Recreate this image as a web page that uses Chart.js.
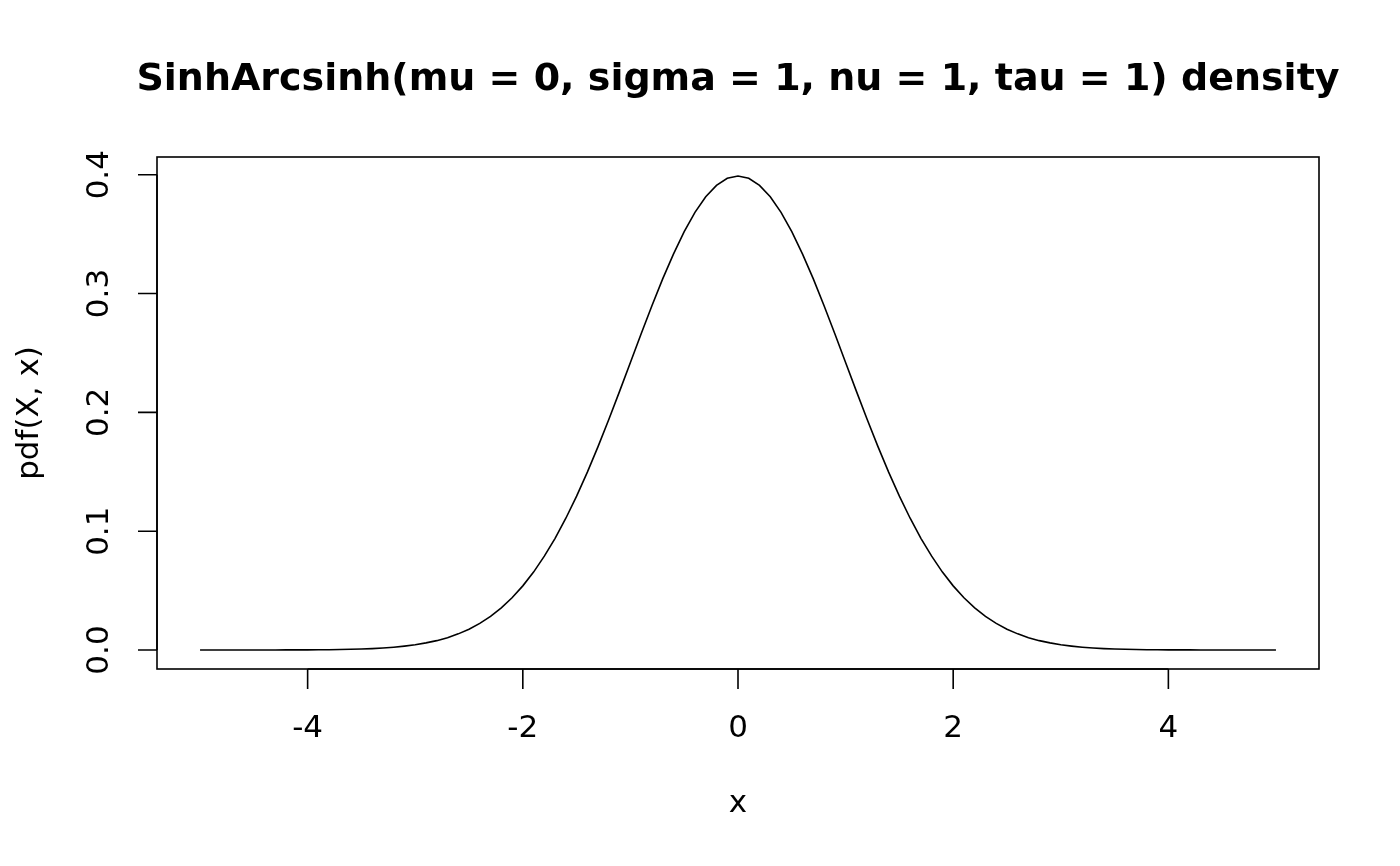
<!DOCTYPE html>
<html>
<head>
<meta charset="utf-8">
<script src="https://cdn.jsdelivr.net/npm/chart.js@4/dist/chart.umd.min.js"></script>
<style>
  html, body { margin: 0; padding: 0; background: #fff; }
  #wrap { width: 1400px; height: 866px; }
</style>
</head>
<body>
<div id="wrap"><canvas id="densityChart" width="1400" height="866"></canvas></div>
<script>
// x grid, -5 to 5 in steps of 0.1
const xValues = [
  -5.0, -4.9, -4.8, -4.7, -4.6, -4.5, -4.4, -4.3, -4.2, -4.1,
  -4.0, -3.9, -3.8, -3.7, -3.6, -3.5, -3.4, -3.3, -3.2, -3.1,
  -3.0, -2.9, -2.8, -2.7, -2.6, -2.5, -2.4, -2.3, -2.2, -2.1,
  -2.0, -1.9, -1.8, -1.7, -1.6, -1.5, -1.4, -1.3, -1.2, -1.1,
  -1.0, -0.9, -0.8, -0.7, -0.6, -0.5, -0.4, -0.3, -0.2, -0.1,
  0.0,
  0.1, 0.2, 0.3, 0.4, 0.5, 0.6, 0.7, 0.8, 0.9, 1.0,
  1.1, 1.2, 1.3, 1.4, 1.5, 1.6, 1.7, 1.8, 1.9, 2.0,
  2.1, 2.2, 2.3, 2.4, 2.5, 2.6, 2.7, 2.8, 2.9, 3.0,
  3.1, 3.2, 3.3, 3.4, 3.5, 3.6, 3.7, 3.8, 3.9, 4.0,
  4.1, 4.2, 4.3, 4.4, 4.5, 4.6, 4.7, 4.8, 4.9, 5.0
];

// density
const densityValues = [
  0.0000, 0.0000, 0.0000, 0.0000, 0.0000, 0.0000, 0.0000, 0.0000, 0.0001, 0.0001,
  0.0001, 0.0002, 0.0003, 0.0004, 0.0006, 0.0009, 0.0012, 0.0017, 0.0024, 0.0033,
  0.0044, 0.0060, 0.0079, 0.0104, 0.0136, 0.0175, 0.0224, 0.0283, 0.0355, 0.0440,
  0.0540, 0.0656, 0.0790, 0.0940, 0.1109, 0.1295, 0.1497, 0.1714, 0.1942, 0.2179,
  0.2420, 0.2661, 0.2897, 0.3123, 0.3332, 0.3521, 0.3683, 0.3814, 0.3910, 0.3970,
  0.3989,
  0.3970, 0.3910, 0.3814, 0.3683, 0.3521, 0.3332, 0.3123, 0.2897, 0.2661, 0.2420,
  0.2179, 0.1942, 0.1714, 0.1497, 0.1295, 0.1109, 0.0940, 0.0790, 0.0656, 0.0540,
  0.0440, 0.0355, 0.0283, 0.0224, 0.0175, 0.0136, 0.0104, 0.0079, 0.0060, 0.0044,
  0.0033, 0.0024, 0.0017, 0.0012, 0.0009, 0.0006, 0.0004, 0.0003, 0.0002, 0.0001,
  0.0001, 0.0001, 0.0000, 0.0000, 0.0000, 0.0000, 0.0000, 0.0000, 0.0000, 0.0000
];

const xTicks = [-4, -2, 0, 2, 4];
const yTicks = [0.0, 0.1, 0.2, 0.3, 0.4];
const yTickLabels = ['0.0', '0.1', '0.2', '0.3', '0.4'];

const chartTitle = 'SinhArcsinh(mu = 0, sigma = 1, nu = 1, tau = 1) density';
const xTitle = 'x';
const yTitle = 'pdf(X, x)';

const FONT = '"DejaVu Sans", sans-serif';

// R-style box, ticks and labels drawn from the chart's own scales
const baseGraphics = {
    id: 'baseGraphics',
    afterDraw(chart) {
        const ctx = chart.ctx;
        const area = chart.chartArea;
        const xs = chart.scales.x;
        const ys = chart.scales.y;

        ctx.save();
        ctx.strokeStyle = '#000';
        ctx.fillStyle = '#000';
        ctx.lineWidth = 1.6;

        // box
        ctx.strokeRect(area.left, area.top, area.right - area.left, area.bottom - area.top);

        // x axis ticks
        ctx.beginPath();
        const x0 = xs.getPixelForValue(xTicks[0]);
        const x1 = xs.getPixelForValue(xTicks[xTicks.length - 1]);
        ctx.moveTo(x0, area.bottom);
        ctx.lineTo(x1, area.bottom);
        xTicks.forEach(v => {
            const px = xs.getPixelForValue(v);
            ctx.moveTo(px, area.bottom);
            ctx.lineTo(px, area.bottom + 20);
        });
        ctx.stroke();

        ctx.font = '31px ' + FONT;
        ctx.textAlign = 'center';
        ctx.textBaseline = 'middle';
        xTicks.forEach(v => {
            ctx.fillText(String(v), xs.getPixelForValue(v), 729);
        });

        // y axis ticks
        ctx.beginPath();
        const y0 = ys.getPixelForValue(yTicks[0]);
        const y1 = ys.getPixelForValue(yTicks[yTicks.length - 1]);
        ctx.moveTo(area.left, y0);
        ctx.lineTo(area.left, y1);
        yTicks.forEach(v => {
            const py = ys.getPixelForValue(v);
            ctx.moveTo(area.left, py);
            ctx.lineTo(area.left - 19, py);
        });
        ctx.stroke();

        yTicks.forEach((v, i) => {
            ctx.save();
            ctx.translate(100, ys.getPixelForValue(v));
            ctx.rotate(-Math.PI / 2);
            ctx.fillText(yTickLabels[i], 0, 0);
            ctx.restore();
        });

        // axis titles
        ctx.fillText(xTitle, (area.left + area.right) / 2, 804);
        ctx.save();
        ctx.translate(30, (area.top + area.bottom) / 2);
        ctx.rotate(-Math.PI / 2);
        ctx.fillText(yTitle, 0, 0);
        ctx.restore();

        // main title
        ctx.font = 'bold 38px ' + FONT;
        ctx.fillText(chartTitle, (area.left + area.right) / 2, 80);

        ctx.restore();
    }
};

document.addEventListener('DOMContentLoaded', function() {
    const points = xValues.map((x, i) => ({ x: x, y: densityValues[i] }));

    new Chart(document.getElementById('densityChart'), {
        type: 'line',
        data: {
            datasets: [{
                data: points,
                borderColor: '#000',
                borderWidth: 1.6,
                pointRadius: 0,
                tension: 0,
                fill: false
            }]
        },
        options: {
            responsive: false,
            animation: false,
            layout: {
                padding: { left: 157, top: 157, right: 81, bottom: 197 }
            },
            plugins: {
                legend: { display: false },
                tooltip: { enabled: false },
                title: { display: false }
            },
            scales: {
                x: {
                    type: 'linear',
                    display: false,
                    min: -5.4,
                    max: 5.4
                },
                y: {
                    type: 'linear',
                    display: false,
                    min: -0.01596,
                    max: 0.41490
                }
            }
        },
        plugins: [baseGraphics]
    });
});
</script>
</body>
</html>
